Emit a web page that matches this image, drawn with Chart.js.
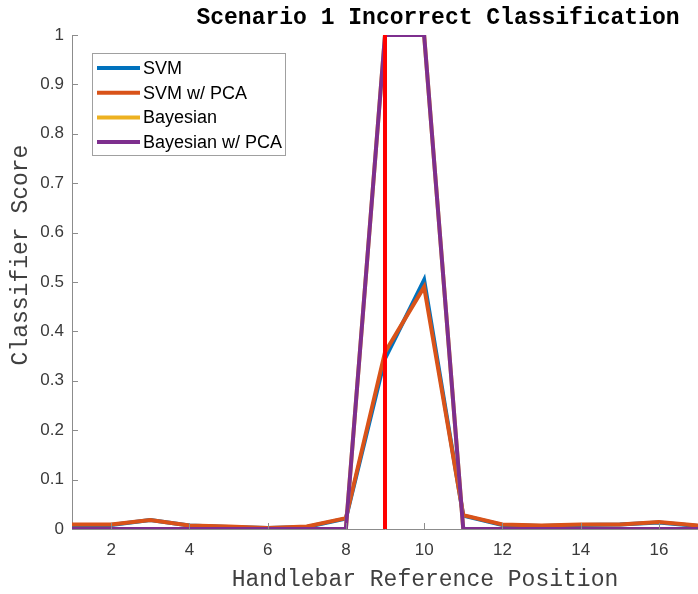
<!DOCTYPE html>
<html>
<head>
<meta charset="utf-8">
<script src="https://cdn.jsdelivr.net/npm/chart.js@4"></script>
<style>
  html, body { margin: 0; padding: 0; background: #fff; }
</style>
</head>
<body>
<canvas id="canvas" width="698" height="594"></canvas>
<script>
// values
const positions = [1, 2, 3, 4, 5, 6, 7, 8, 9, 10, 11, 12, 13, 14, 15, 16, 17];
const svm = [0.008, 0.008, 0.018, 0.007, 0.004, 0.002, 0.004, 0.021, 0.345, 0.504, 0.027, 0.008, 0.006, 0.008, 0.009, 0.013, 0.006];
const svmPca = [0.009, 0.009, 0.018, 0.007, 0.005, 0.002, 0.005, 0.022, 0.358, 0.49, 0.028, 0.009, 0.007, 0.009, 0.009, 0.014, 0.007];
const bayes = [0, 0, 0, 0, 0, 0, 0, 0, 1, 1, 0, 0, 0, 0, 0, 0, 0];
const bayesPca = [0, 0, 0, 0, 0, 0, 0, 0, 1, 1, 0, 0, 0, 0, 0, 0, 0];
const markerX = [9, 9];
const markerY = [0, 1];
const xTicks = [2, 4, 6, 8, 10, 12, 14, 16];
const yTicks = [0, 0.1, 0.2, 0.3, 0.4, 0.5, 0.6, 0.7, 0.8, 0.9, 1];

const titleText = 'Scenario 1 Incorrect Classification';
const xLabel = 'Handlebar Reference Position';
const yLabel = 'Classifier Score';

function pts(xs, ys) {
  return xs.map((x, i) => ({ x: x, y: ys[i] }));
}

function series(label, ys, color, order) {
  return {
    label: label,
    data: pts(positions, ys),
    borderColor: color,
    backgroundColor: color,
    borderWidth: 4,
    pointRadius: 0,
    tension: 0,
    order: order,
    inLegend: true
  };
}

// MATLAB-style decorations: inward ticks, boxed legend, labels
const decor = {
  id: 'decor',
  afterDatasetsDraw(chart) {
    const ctx = chart.ctx;
    const xs = chart.scales.x, ys = chart.scales.y;
    const area = chart.chartArea;

    ctx.save();
    ctx.strokeStyle = '#8c8c8c';
    ctx.lineWidth = 1;
    ctx.beginPath();
    xs.ticks.forEach(t => {
      const px = Math.round(xs.getPixelForValue(t.value)) + 0.5;
      ctx.moveTo(px, area.bottom);
      ctx.lineTo(px, area.bottom - 6);
    });
    ys.ticks.forEach(t => {
      const py = Math.round(ys.getPixelForValue(t.value)) + 0.5;
      ctx.moveTo(area.left, py);
      ctx.lineTo(area.left + 6, py);
    });
    ctx.stroke();

    // legend box
    const items = chart.data.datasets.filter(d => d.inLegend);
    const bx = 92.5, by = 53.5, bw = 193, bh = 102;
    ctx.fillStyle = '#fff';
    ctx.fillRect(bx, by, bw, bh);
    ctx.strokeStyle = '#a0a0a0';
    ctx.strokeRect(bx, by, bw, bh);
    ctx.font = '18px "Liberation Sans", Arial, sans-serif';
    ctx.textBaseline = 'middle';
    ctx.textAlign = 'left';
    items.forEach((d, i) => {
      const y = 68 + i * 24.7;
      ctx.strokeStyle = d.borderColor;
      ctx.lineWidth = 4;
      ctx.beginPath();
      ctx.moveTo(97, y);
      ctx.lineTo(140, y);
      ctx.stroke();
      ctx.fillStyle = '#000';
      ctx.fillText(d.label, 143, y + 1);
    });

    // title and axis labels
    ctx.textAlign = 'center';
    ctx.fillStyle = '#000';
    ctx.font = 'bold 23px "Liberation Mono", "Courier New", monospace';
    ctx.fillText(titleText, 438, 18);
    ctx.fillStyle = '#404040';
    ctx.font = '23px "Liberation Mono", "Courier New", monospace';
    ctx.fillText(xLabel, 425, 580);
    ctx.translate(21, 255);
    ctx.rotate(-Math.PI / 2);
    ctx.fillText(yLabel, 0, 0);
    ctx.restore();
  }
};

window.addEventListener('load', setup);

function setup() {
  const ctx = document.getElementById('canvas').getContext('2d');
  new Chart(ctx, {
    type: 'line',
    data: {
      datasets: [
        series('SVM', svm, '#0072BD', 5),
        series('SVM w/ PCA', svmPca, '#D95319', 4),
        series('Bayesian', bayes, '#EDB120', 3),
        series('Bayesian w/ PCA', bayesPca, '#7E2F8E', 2),
        {
          label: 'Actual',
          data: pts(markerX, markerY),
          borderColor: '#FF0000',
          borderWidth: 4,
          pointRadius: 0,
          order: 1
        }
      ]
    },
    options: {
      responsive: false,
      animation: false,
      devicePixelRatio: 1,
      layout: { padding: { top: 35, left: 0, right: 0, bottom: 0 } },
      plugins: {
        legend: { display: false },
        title: { display: false },
        tooltip: { enabled: false }
      },
      scales: {
        x: {
          type: 'linear',
          min: 1,
          max: 17,
          afterBuildTicks: s => { s.ticks = xTicks.map(v => ({ value: v })); },
          afterFit: s => { s.height = 65; },
          grid: { display: false, drawTicks: false },
          border: { display: true, color: '#8c8c8c', width: 1 },
          ticks: {
            color: '#3a3a3a',
            padding: 11,
            maxRotation: 0,
            autoSkip: false,
            font: { family: '"Liberation Sans", Arial, sans-serif', size: 17 }
          }
        },
        y: {
          min: 0,
          max: 1,
          afterBuildTicks: s => { s.ticks = yTicks.map(v => ({ value: v })); },
          afterFit: s => { s.width = 72; },
          grid: { display: false, drawTicks: false },
          border: { display: true, color: '#8c8c8c', width: 1 },
          ticks: {
            color: '#3a3a3a',
            padding: 8,
            autoSkip: false,
            font: { family: '"Liberation Sans", Arial, sans-serif', size: 17 },
            callback: v => String(+v.toFixed(1))
          }
        }
      }
    },
    plugins: [decor]
  });
}
</script>
</body>
</html>
